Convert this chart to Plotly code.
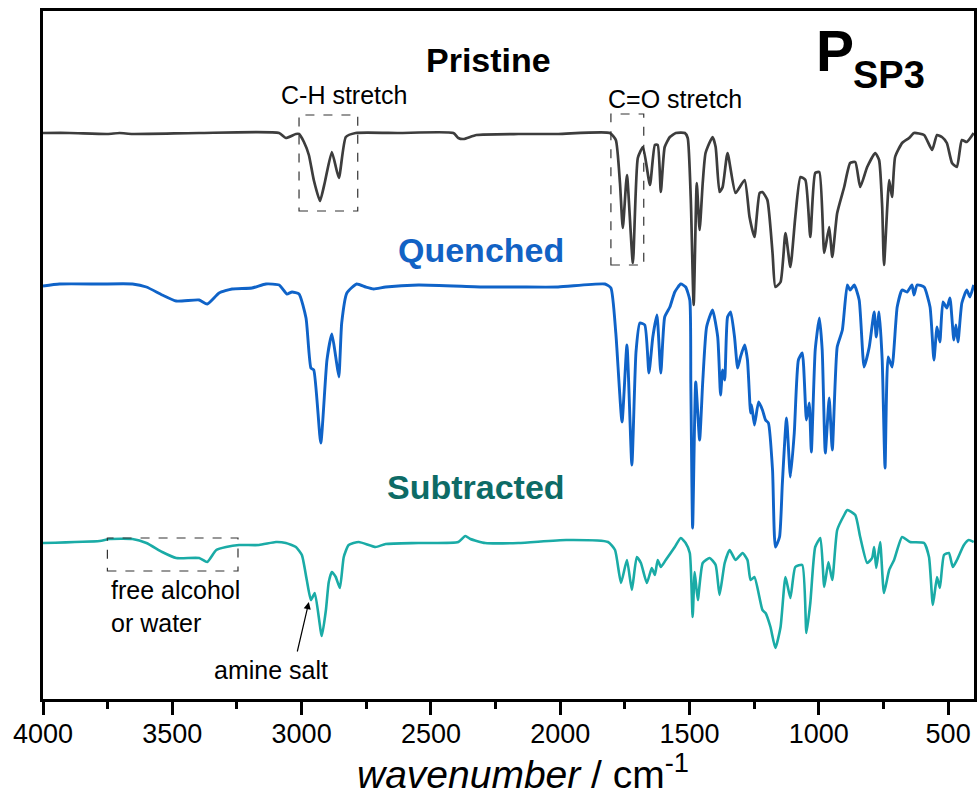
import plotly.graph_objects as go

# ---------------- data ----------------
wn_pristine = [4000, 3897, 3751, 3704, 3654, 3396, 3087, 3061, 3022, 3010, 2991, 2972, 2953, 2929, 2910,
               2883, 2856, 2829, 2791, 2625, 2413, 2394, 2374, 2324, 2162, 2008, 1808, 1785, 1769, 1758,
               1742, 1719, 1700, 1680, 1653, 1634, 1623, 1611, 1596, 1576, 1553, 1518, 1507, 1495, 1484,
               1472, 1461, 1449, 1438, 1411, 1399, 1384, 1372, 1353, 1322, 1287, 1268, 1249, 1229, 1218,
               1199, 1179, 1168, 1148, 1129, 1110, 1091, 1071, 1052, 1033, 1014, 998, 979, 960, 948,
               929, 902, 879, 859, 840, 813, 782, 767, 755, 748, 728, 717, 705, 678, 651,
               632, 593, 562, 543, 524, 505, 485, 466, 447, 428, 401]
int_pristine = [56.6, 56.6, 56.5, 56.6, 56.5, 56.6, 56.6, 56.1, 56.5, 56.5, 55.7, 54.4, 51.9, 49.8, 51.7,
                54.7, 52.1, 56.2, 56.6, 56.6, 56.6, 56.1, 56.0, 56.4, 56.5, 56.5, 56.6, 55.9, 51.6, 47.1,
                52.4, 43.6, 54.1, 55.2, 51.4, 55.4, 55.4, 50.7, 55.2, 56.2, 56.6, 56.6, 56.1, 49.9, 39.4,
                51.6, 46.9, 51.6, 54.6, 56.2, 55.2, 50.7, 51.2, 54.6, 50.6, 51.9, 48.2, 46.2, 50.6, 50.7,
                49.9, 44.6, 41.2, 41.7, 46.6, 43.2, 48.2, 52.2, 51.9, 46.2, 52.6, 52.7, 44.6, 47.2, 44.2,
                48.6, 51.2, 53.6, 53.7, 51.2, 53.2, 54.6, 53.9, 49.2, 43.4, 51.9, 50.2, 54.2, 55.6, 56.1,
                56.6, 56.4, 54.9, 56.4, 56.2, 55.6, 53.6, 53.2, 55.9, 55.7, 56.6]

wn_quenched = [4000, 3936, 3781, 3654, 3600, 3539, 3485, 3396, 3365, 3319, 3269, 3192, 3138, 3087, 3057,
               3037, 3010, 2983, 2964, 2953, 2926, 2902, 2883, 2868, 2856, 2845, 2825, 2787, 2752, 2721,
               2675, 2548, 2290, 2162, 2008, 1827, 1804, 1785, 1761, 1742, 1723, 1707, 1692, 1673, 1657,
               1642, 1626, 1611, 1596, 1576, 1557, 1534, 1515, 1499, 1495, 1488, 1476, 1461, 1449, 1434,
               1411, 1391, 1380, 1372, 1364, 1353, 1341, 1326, 1314, 1303, 1287, 1276, 1264, 1260, 1249,
               1233, 1218, 1206, 1195, 1179, 1168, 1152, 1141, 1125, 1110, 1095, 1079, 1064, 1048, 1037,
               1029, 1014, 998, 987, 975, 960, 948, 929, 909, 890, 879, 863, 844, 825, 805,
               786, 778, 767, 755, 744, 732, 717, 697, 678, 659, 640, 632, 620, 593, 570,
               555, 543, 532, 520, 505, 493, 478, 470, 462, 447, 428, 416, 401]
int_quenched = [41.3, 41.5, 41.5, 41.5, 41.2, 40.4, 39.8, 39.9, 39.5, 40.6, 41.0, 41.1, 41.5, 41.4, 40.5,
                40.7, 40.5, 38.1, 33.1, 32.9, 25.6, 33.9, 36.5, 34.2, 32.2, 37.6, 40.6, 41.5, 41.2, 41.0,
                41.2, 41.4, 41.2, 41.2, 41.2, 41.5, 41.1, 36.6, 27.7, 35.4, 23.4, 34.7, 37.6, 37.4, 32.6,
                36.2, 38.4, 32.6, 38.2, 39.2, 40.7, 41.5, 41.2, 39.9, 31.6, 17.1, 31.7, 25.9, 31.7, 37.2,
                38.9, 36.2, 30.4, 32.9, 31.9, 38.2, 38.7, 36.2, 33.1, 34.2, 35.4, 33.9, 28.6, 29.4, 27.4,
                29.7, 28.9, 27.9, 27.6, 22.9, 15.2, 16.2, 21.6, 28.1, 22.2, 26.6, 33.9, 34.6, 27.9, 29.6,
                24.7, 34.9, 38.1, 34.9, 24.6, 30.1, 24.9, 35.2, 36.9, 41.4, 40.9, 41.4, 39.9, 33.2, 35.2,
                38.7, 36.2, 38.7, 33.9, 23.1, 34.2, 33.2, 39.2, 40.9, 40.7, 41.4, 40.4, 41.4, 41.2, 39.2,
                33.9, 37.2, 35.7, 39.7, 39.1, 40.1, 35.9, 37.4, 35.7, 39.6, 40.9, 40.2, 41.4]

wn_subtracted = [4000, 3781, 3743, 3654, 3600, 3539, 3485, 3396, 3365, 3330, 3292, 3242, 3165, 3099, 3061,
                 3022, 2999, 2980, 2964, 2949, 2922, 2906, 2895, 2883, 2868, 2852, 2837, 2818, 2779, 2714,
                 2675, 2548, 2394, 2367, 2347, 2290, 2162, 1977, 1815, 1788, 1765, 1742, 1723, 1704, 1688,
                 1665, 1646, 1634, 1623, 1611, 1592, 1557, 1534, 1515, 1499, 1488, 1480, 1468, 1449, 1422,
                 1399, 1384, 1364, 1345, 1322, 1295, 1276, 1264, 1249, 1218, 1206, 1187, 1168, 1148, 1129,
                 1110, 1091, 1064, 1048, 1033, 1014, 994, 979, 963, 948, 929, 902, 890, 859, 840,
                 813, 794, 786, 778, 763, 748, 728, 709, 678, 647, 593, 574, 559, 543, 532,
                 516, 497, 482, 466, 439, 420, 401]
int_subtracted = [15.6, 15.8, 16.0, 16.0, 15.6, 14.7, 14.1, 14.1, 13.7, 14.9, 15.2, 15.4, 15.4, 15.7, 15.6,
                  15.2, 14.4, 11.9, 9.9, 10.6, 6.3, 8.9, 11.7, 12.7, 12.2, 11.1, 14.2, 15.4, 15.7, 15.2,
                  15.5, 15.6, 15.7, 16.3, 16.0, 15.6, 15.6, 15.9, 15.7, 14.9, 11.6, 13.9, 10.9, 14.2, 13.6,
                  11.6, 13.1, 12.4, 13.9, 13.2, 13.9, 15.2, 16.1, 15.6, 14.6, 8.2, 12.7, 9.9, 13.6, 14.1,
                  13.4, 10.4, 13.6, 14.9, 13.9, 14.6, 13.9, 11.9, 12.2, 8.9, 8.6, 7.2, 5.1, 7.2, 12.2,
                  10.1, 13.2, 13.4, 6.6, 9.6, 15.2, 16.1, 11.2, 13.7, 11.9, 16.9, 18.4, 18.9, 18.4, 16.2,
                  13.6, 14.1, 15.2, 13.1, 15.7, 10.6, 12.9, 13.9, 16.2, 15.7, 15.6, 14.2, 9.4, 12.2, 11.1,
                  14.4, 14.6, 13.2, 13.9, 15.4, 15.9, 15.7]

x_tick_values = [4000, 3500, 3000, 2500, 2000, 1500, 1000, 500]
x_tick_labels = ["4000", "3500", "3000", "2500", "2000", "1500", "1000", "500"]

# ---------------- figure ----------------
FONT = "Liberation Sans, Arial, sans-serif"
C_PRI = "#3d3d3d"
C_QUE = "#0f63c8"
C_SUB = "#1aaba6"
SMOOTH = 0.5

fig = go.Figure()
fig.add_trace(go.Scatter(x=wn_subtracted, y=int_subtracted, mode="lines",
                         line=dict(color=C_SUB, width=2.6, shape="spline", smoothing=SMOOTH), name="Subtracted"))
fig.add_trace(go.Scatter(x=wn_quenched, y=int_quenched, mode="lines",
                         line=dict(color=C_QUE, width=2.9, shape="spline", smoothing=SMOOTH), name="Quenched"))
fig.add_trace(go.Scatter(x=wn_pristine, y=int_pristine, mode="lines",
                         line=dict(color=C_PRI, width=2.7, shape="spline", smoothing=SMOOTH), name="Pristine"))

# dashed boxes around bands
box_style = dict(type="rect", xref="x", yref="y", line=dict(color="#333333", width=1.2, dash="dash"),
                 fillcolor="rgba(0,0,0,0)")
fig.add_shape(x0=3010, x1=2783, y0=48.8, y1=58.4, **box_style)
fig.add_shape(x0=1804, x1=1677, y0=43.4, y1=58.5, **box_style)
fig.add_shape(x0=3751, x1=3246, y0=12.8, y1=16.1, **box_style)

ann = []
ann.append(dict(x=2278, y=63.9, text="<b>Pristine</b>", font=dict(size=34, color="black", family=FONT)))
ann.append(dict(x=2305, y=44.9, text="<b>Quenched</b>", font=dict(size=34, color="#1262c4", family=FONT)))
ann.append(dict(x=2324, y=21.2, text="<b>Subtracted</b>", font=dict(size=34, color="#0d6b66", family=FONT)))
ann.append(dict(x=2837, y=60.4, text="C-H stretch", font=dict(size=25, color="black", family=FONT)))
ann.append(dict(x=1557, y=60.0, text="C=O stretch", font=dict(size=25, color="black", family=FONT)))
ann.append(dict(x=3743, y=9.3, text="free alcohol<br>or water", xanchor="left", align="left",
                font=dict(size=25, color="black", family=FONT)))
ann.append(dict(x=3118, y=2.9, text="amine salt", font=dict(size=25, color="black", family=FONT)))
ann.append(dict(x=1018, y=64.8, text="<b>P</b>", xanchor="left", font=dict(size=57, color="black", family=FONT)))
ann.append(dict(x=874, y=62.4, text="<b>SP3</b>", xanchor="left", font=dict(size=38, color="black", family=FONT)))
for a in ann:
    a.setdefault("xanchor", "center")
    a.update(xref="x", yref="y", showarrow=False, yanchor="middle")
    fig.add_annotation(**a)

# arrow to amine salt shoulder
fig.add_annotation(x=2972, y=9.7, ax=3018, ay=4.6, xref="x", yref="y", axref="x", ayref="y",
                   text="", showarrow=True, arrowhead=2, arrowsize=1.2, arrowwidth=1.2, arrowcolor="black")

# x-axis title (placed as paper annotation to match the reference position)
fig.add_annotation(x=0.516, y=-0.143, xref="paper", yref="paper", xanchor="center", yanchor="bottom",
                   showarrow=False, text="<i>wavenumber</i> / cm<sup>-1</sup>", borderpad=0,
                   font=dict(size=39, family=FONT, color="black"))

fig.update_layout(
    width=980, height=798,
    margin=dict(l=43, r=3, t=11, b=99),
    paper_bgcolor="white", plot_bgcolor="white",
    showlegend=False,
    font=dict(family=FONT, color="black"),
)
fig.update_xaxes(
    range=[4000, 400], autorange=False,
    tickmode="array", tickvals=x_tick_values, ticktext=x_tick_labels,
    ticks="outside", ticklen=13, tickwidth=2.5, tickcolor="black",
    minor=dict(dtick=250, tick0=0, ticks="outside", ticklen=7, tickwidth=2.5, tickcolor="black"),
    showline=True, linewidth=2.5, linecolor="black", mirror=True,
    showgrid=False, zeroline=False,
    tickfont=dict(size=27, family=FONT, color="black"),
    ticklabelstandoff=-4,
)
fig.update_yaxes(
    range=[0, 68.8], autorange=False,
    showticklabels=False, ticks="",
    showline=True, linewidth=2.5, linecolor="black", mirror=True,
    showgrid=False, zeroline=False,
)

fig.write_html("out.html")
